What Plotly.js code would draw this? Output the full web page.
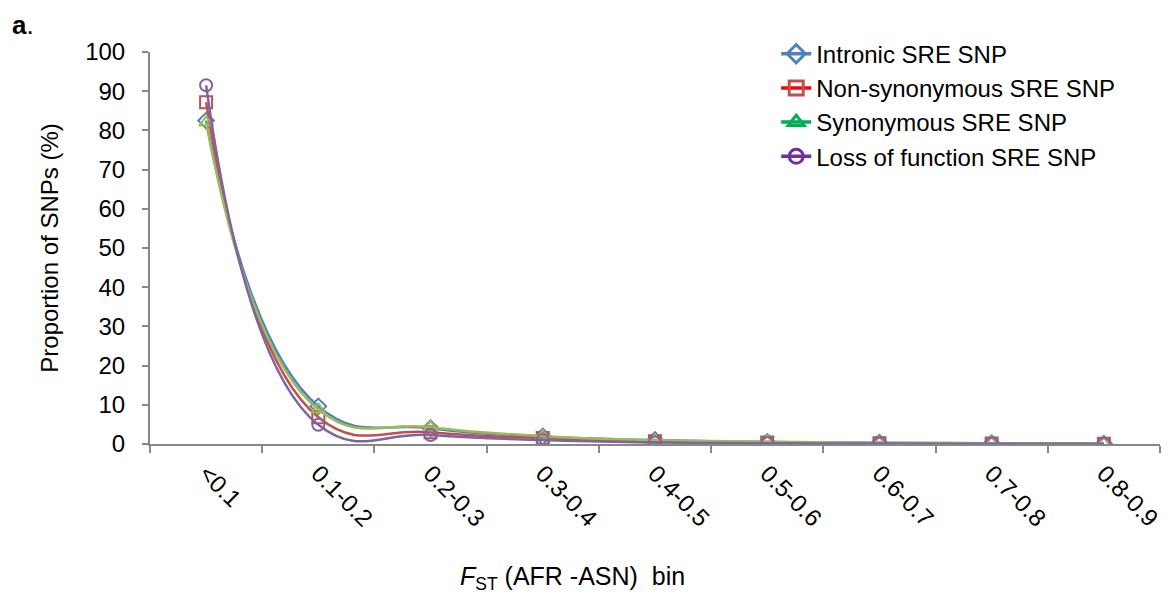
<!DOCTYPE html>
<html>
<head>
<meta charset="utf-8">
<script src="https://cdn.plot.ly/plotly-3.0.1.min.js"></script>
<style>html,body{margin:0;padding:0;background:#fff;}#chart{width:1172px;height:593px;}</style>
</head>
<body>
<div id="chart"></div>
<script>
const bins = ['<0.1','0.1-0.2','0.2-0.3','0.3-0.4','0.4-0.5','0.5-0.6','0.6-0.7','0.7-0.8','0.8-0.9'];
const intronic = [82.5, 9.6, 4.0, 1.9, 1.0, 0.5, 0.3, 0.2, 0.1];
const nonsyn   = [87.2, 6.8, 3.0, 1.5, 0.7, 0.4, 0.2, 0.1, 0.05];
const syn      = [82.0, 8.8, 4.3, 2.0, 1.0, 0.6, 0.3, 0.2, 0.1];
const lof      = [91.5, 4.9, 2.3, 1.0, 0.4, 0.2, 0.1, 0.05, 0.0];
const seriesNames = ['Intronic SRE SNP','Non-synonymous SRE SNP','Synonymous SRE SNP','Loss of function SRE SNP'];

const FONT = 'Liberation Sans, Arial, sans-serif';
const dataColors = ['#4F81BD','#C0504D','#9BBB59','#8064A2'];
const legendLine = ['#4F81BD','#FF0000','#00B050','#7030A0'];
const legendMark = ['#4F81BD','#C0504D','#00B050','#7030A0'];
const symbols = ['diamond-open','square-open','triangle-up-open','circle-open'];
const series = [intronic, nonsyn, syn, lof];

const traces = [];
series.forEach((s,i)=>{
  traces.push({
    x: bins, y: s, type:'scatter', mode:'lines+markers', showlegend:false,
    line:{color:dataColors[i], width:2.5, shape:'spline', smoothing:1.3},
    marker:{symbol:symbols[i], size:12, color:dataColors[i], line:{width:2, color:dataColors[i]}},
    cliponaxis:true
  });
});
series.forEach((s,i)=>{
  traces.push({
    x:[null], y:[null], type:'scatter', mode:'lines+markers', name:seriesNames[i],
    line:{color:legendLine[i], width:3.5},
    marker:{symbol:symbols[i], size:14, color:legendMark[i], line:{width:3, color:legendMark[i]}}
  });
});

const layout = {
  width:1172, height:593,
  margin:{l:150, r:12, t:52, b:149},
  paper_bgcolor:'#fff', plot_bgcolor:'#fff',
  font:{family:FONT, size:24, color:'#000'},
  showlegend:true,
  legend:{x:0.62, y:1.052, xanchor:'left', yanchor:'top', bgcolor:'rgba(0,0,0,0)',
          font:{family:FONT, size:24, color:'#000'}, tracegroupgap:0},
  xaxis:{
    type:'category', range:[-0.5, 8.5], showgrid:false, zeroline:false,
    showline:true, linecolor:'#888', linewidth:2,
    ticks:'outside', ticklen:7, tickcolor:'#888', tickwidth:2, tickson:'boundaries',
    tickangle:45, tickfont:{family:FONT, size:24, color:'#000'}, ticklabelstandoff:4
  },
  yaxis:{
    range:[0,100], dtick:10, showgrid:false, zeroline:false,
    showline:true, linecolor:'#888', linewidth:2,
    ticks:'outside', ticklen:6, tickcolor:'#888', tickwidth:2,
    tickfont:{family:FONT, size:24, color:'#000'}, ticklabelstandoff:12,
    title:{text:'Proportion of SNPs (%)', font:{family:FONT, size:24, color:'#000'}, standoff:20}
  },
  annotations:[
    {text:'<i>F</i><sub>ST</sub> (AFR -ASN)  bin', xref:'paper', yref:'paper', x:0.418, y:-0.342,
     xanchor:'center', yanchor:'middle', showarrow:false, font:{family:FONT, size:25, color:'#000'}},
    {text:'<b>a</b>.', xref:'paper', yref:'paper', x:-0.139, y:1.068, xanchor:'left', yanchor:'middle',
     showarrow:false, font:{family:FONT, size:26, color:'#000'}}
  ]
};

Plotly.newPlot('chart', traces, layout, {displayModeBar:false, staticPlot:true});
</script>
</body>
</html>
